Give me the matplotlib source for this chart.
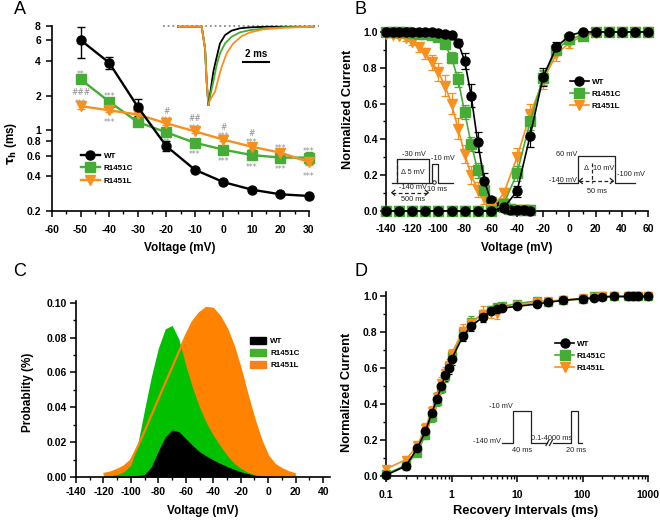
import matplotlib
matplotlib.use("Agg")
import matplotlib.pyplot as plt
from matplotlib.lines import Line2D
from matplotlib.patches import Patch
from matplotlib.ticker import FixedLocator, FixedFormatter, MultipleLocator, NullLocator, LogLocator

plt.rcParams['font.family'] = ['Liberation Sans', 'DejaVu Sans']
plt.rcParams['font.weight'] = 'bold'
plt.rcParams['axes.labelweight'] = 'bold'
plt.rcParams['mathtext.default'] = 'bf'
plt.rcParams['axes.unicode_minus'] = False

W, H = 660, 520

GREEN = '#45ad35'
ORANGE = '#f7901e'
GREEN_FILL = '#00c000'
ORANGE_FILL = '#ff8200'
SIG_GRAY = '#8c8c8c'
labels = ['WT', 'R1451C', 'R1451L']

# ---------------- A: inactivation time constants ----------------
volt_a = [-50, -40, -30, -20, -10, 0, 10, 20, 30]
tau_wt = [6.05, 3.85, 1.60, 0.73, 0.456, 0.356, 0.306, 0.279, 0.27]
tau_wt_err = [1.85, 0.45, 0.26, 0.07, 0.02, 0.015, 0.01, 0.01, 0.01]
tau_c = [2.77, 1.77, 1.18, 0.96, 0.78, 0.68, 0.61, 0.58, 0.58]
tau_c_err = [0.12, 0.08, 0.05, 0.04, 0.03, 0.03, 0.03, 0.03, 0.07]
tau_l = [1.62, 1.49, 1.37, 1.15, 0.98, 0.83, 0.72, 0.64, 0.53]
tau_l_err = [0.1, 0.06, 0.05, 0.04, 0.03, 0.03, 0.03, 0.03, 0.03]

# significance marks: (voltage, series, text, offset in px)
sig_marks = [(-50, 'C', '**', 7), (-50, 'L', '***', 5), (-50, 'L', '###', 14),
             (-40, 'C', '***', 7), (-40, 'L', '***', -10),
             (-20, 'L', '***', 5), (-20, 'L', '#', 12), (-20, 'C', '**', -8),
             (-10, 'L', '***', 5), (-10, 'L', '##', 13), (-10, 'C', '***', -10),
             (0, 'L', '***', 5), (0, 'L', '#', 12), (0, 'C', '***', -10),
             (10, 'L', '***', 6), (10, 'L', '#', 13), (10, 'C', '***', -10),
             (20, 'L', '***', 6), (20, 'C', '***', -10),
             (30, 'C', '***', 8), (30, 'L', '***', -12)]

# inset current traces (time ms, normalised current)
drop_t = [0.0, 1.78, 2.03, 2.15, 2.28]
drop_i = [0.0, 0.0, -0.28, -0.70, -1.0]
trace_wt_t = [2.28, 2.40, 2.65, 2.90, 3.15, 3.53, 4.02, 4.65, 5.40, 6.65, 10.15]
trace_wt_i = [-1.0, -0.87, -0.575, -0.39, -0.213, -0.106, -0.05, -0.02, -0.008, 0.0, 0.0]
trace_c_t = [2.28, 2.40, 2.65, 2.90, 3.15, 3.53, 4.02, 4.65, 5.40, 6.65, 7.90, 10.15]
trace_c_i = [-1.0, -0.894, -0.70, -0.49, -0.34, -0.213, -0.128, -0.072, -0.043, -0.02, -0.008, 0.0]
trace_l_t = [2.28, 2.40, 2.78, 3.03, 3.28, 3.65, 4.15, 4.78, 5.40, 6.40, 7.90, 10.15]
trace_l_i = [-1.0, -0.936, -0.83, -0.66, -0.51, -0.34, -0.213, -0.12, -0.072, -0.034, -0.013, 0.0]

# ---------------- B: steady-state activation / inactivation ----------------
volt_inact = list(range(-140, -25, 5))
inact_wt = [1.0, 1.0, 1.0, 1.0, 1.0, 1.0, 1.0, 1.0, 0.995, 0.99, 0.985, 0.94, 0.84, 0.645,
            0.385, 0.17, 0.06, 0.03, 0.015, 0.008, 0.005, 0.003, 0.002]
inact_wt_err = [0.005] * 11 + [0.02, 0.045, 0.065, 0.055, 0.04, 0.02] + [0.005] * 6
inact_c = [1.0, 1.0, 1.0, 1.0, 0.995, 0.99, 0.99, 0.985, 0.97, 0.93, 0.857, 0.735, 0.553,
           0.376, 0.227, 0.115, 0.05, 0.03, 0.02, 0.012, 0.008, 0.005, 0.003]
inact_c_err = [0.005] * 8 + [0.01, 0.02, 0.03, 0.04, 0.04, 0.04, 0.04, 0.03, 0.02] + [0.005] * 6
inact_l = [0.99, 0.985, 0.975, 0.965, 0.945, 0.915, 0.88, 0.83, 0.775, 0.70, 0.60, 0.46, 0.32,
           0.20, 0.12, 0.07, 0.045, 0.03, 0.02, 0.012, 0.008, 0.005, 0.003]
inact_l_err = [0.01, 0.01, 0.01, 0.015, 0.02, 0.025, 0.03, 0.04, 0.05, 0.06, 0.06, 0.06, 0.05,
               0.05, 0.04, 0.03, 0.02] + [0.005] * 6

volt_act = list(range(-140, 70, 10))
act_wt = [0.0] * 9 + [0.02, 0.11, 0.42, 0.75, 0.915, 0.98, 1.0, 1.0, 1.0, 1.0, 1.0, 1.0]
act_wt_err = [0.0] * 9 + [0.01, 0.03, 0.06, 0.05, 0.03, 0.01, 0.0, 0.0, 0.0, 0.0, 0.0, 0.0]
act_c = [0.0] * 9 + [0.04, 0.21, 0.50, 0.745, 0.90, 0.96, 0.98, 1.0, 1.0, 1.0, 1.0, 1.0]
act_c_err = [0.0] * 9 + [0.01, 0.04, 0.05, 0.04, 0.03, 0.02, 0.01, 0.0, 0.0, 0.0, 0.0, 0.0]
act_l = [0.0] * 8 + [0.01, 0.10, 0.30, 0.54, 0.73, 0.875, 0.94, 0.975, 0.995, 1.0, 1.0, 1.0, 1.0]
act_l_err = [0.0] * 8 + [0.01, 0.03, 0.05, 0.06, 0.05, 0.04, 0.03, 0.02, 0.01, 0.0, 0.0, 0.0, 0.0]

# ---------------- C: window current probability ----------------
volt_c = list(range(-120, 25, 5))
prob_l = [0.0017, 0.0025, 0.004, 0.006, 0.0095, 0.0175, 0.0264, 0.0356, 0.0448, 0.054, 0.063,
          0.072, 0.081, 0.089, 0.094, 0.097, 0.0965, 0.092, 0.085, 0.075, 0.062, 0.047, 0.033,
          0.021, 0.012, 0.007, 0.0045, 0.0027, 0.0015]
prob_c = [0.0004, 0.0008, 0.0015, 0.003, 0.0069, 0.019, 0.039, 0.058, 0.074, 0.085, 0.087,
          0.079, 0.064, 0.051, 0.040, 0.031, 0.024, 0.018, 0.0125, 0.008, 0.005, 0.0028, 0.0014,
          0.0006, 0.0002, 0.0, 0.0, 0.0, 0.0]
prob_wt = [0.0, 0.0, 0.0, 0.0001, 0.0005, 0.0008, 0.0015, 0.006, 0.015, 0.023, 0.027, 0.026,
           0.022, 0.018, 0.0145, 0.012, 0.0098, 0.0078, 0.006, 0.0045, 0.003, 0.002, 0.001,
           0.0005, 0.0002, 0.0, 0.0, 0.0, 0.0]

# ---------------- D: recovery from inactivation ----------------
rec_t = [0.1, 0.2, 0.3, 0.4, 0.5, 0.6, 0.7, 0.8, 0.9, 1, 1.5, 2, 3, 4, 5, 6, 10, 20, 30, 50,
         100, 150, 200, 300, 500, 600, 700, 1000]
rec_wt = [0.005, 0.055, 0.154, 0.25, 0.35, 0.43, 0.50, 0.56, 0.60, 0.65, 0.78, 0.835, 0.885,
          0.92, 0.93, 0.935, 0.945, 0.958, 0.968, 0.978, 0.988, 0.99, 0.997, 1.0, 1.0, 1.0, 1.0, 1.0]
rec_c = [0.01, 0.06, 0.13, 0.23, 0.33, 0.42, 0.49, 0.555, 0.61, 0.67, 0.80, 0.86, 0.90, 0.925,
         0.94, 0.945, 0.96, 0.975, 0.97, 0.98, 0.985, 1.0, 1.0, 1.0, 1.0, 1.0, 1.0, 1.0]
rec_l = [0.04, 0.09, 0.17, 0.27, 0.36, 0.44, 0.52, 0.575, 0.62, 0.68, 0.81, 0.85, 0.905, 0.91,
         0.905, 0.935, 0.95, 0.97, 0.975, 0.98, 0.99, 0.995, 1.0, 1.0, 1.0, 1.0, 1.0, 1.0]
rec_err = [0.01, 0.02, 0.02, 0.025, 0.03, 0.03, 0.03, 0.03, 0.03, 0.03, 0.03, 0.03, 0.025, 0.02,
           0.02, 0.015, 0.01, 0.01, 0.01, 0.01, 0.01, 0.01, 0.005, 0.005, 0.005, 0.005, 0.005, 0.005]
rec_l_err = [0.015, 0.02, 0.02, 0.025, 0.03, 0.03, 0.03, 0.03, 0.03, 0.03, 0.035, 0.03, 0.04,
             0.03, 0.03, 0.015, 0.01, 0.01, 0.01, 0.01, 0.01, 0.01, 0.005, 0.005, 0.005, 0.005,
             0.005, 0.005]


def box(l, t, r, b):
    return [l / W, 1 - b / H, (r - l) / W, (b - t) / H]


def style(ax, pad_x, pad_y):
    for s in ['top', 'right']:
        ax.spines[s].set_visible(False)
    for s in ['left', 'bottom']:
        ax.spines[s].set_linewidth(1.2)
    ax.tick_params(which='major', length=4, width=1.1, labelsize=7.5, direction='out')
    ax.tick_params(which='minor', length=2.5, width=1.0, direction='out')
    ax.tick_params(axis='x', which='major', pad=pad_x)
    ax.tick_params(axis='y', which='major', pad=pad_y)


def place_label(axis, text, x, y, size, fig):
    axis.set_label_text(text, fontsize=size)
    axis.set_label_coords(x / W, 1 - y / H, transform=fig.transFigure)
    axis.label.set_va('center')
    axis.label.set_ha('center')


def unclip(eb):
    eb.lines[0].set_clip_on(False)
    for a in list(eb.lines[1]) + list(eb.lines[2]):
        a.set_clip_on(False)


fig = plt.figure(figsize=(6.6, 5.2), dpi=100)

# ================= A =================
axA = fig.add_axes(box(52, 26, 309, 211))
axA.set_yscale('log')
series_a = {'C': (tau_c, tau_c_err, GREEN, 's'), 'L': (tau_l, tau_l_err, ORANGE, 'v'),
            'W': (tau_wt, tau_wt_err, 'black', 'o')}
for key in ['C', 'L', 'W']:
    vals, err, col, mk = series_a[key]
    eb = axA.errorbar(volt_a, vals, yerr=err, color=col, marker=mk, ms=6.5, lw=1.7,
                      capsize=3, elinewidth=1, capthick=1, zorder=3)
    unclip(eb)
for v, key, txt, dy in sig_marks:
    vals = series_a[key][0]
    axA.annotate(txt, xy=(v, vals[volt_a.index(v)]), xytext=(0, dy - (2 if '*' in txt else 0)),
                 textcoords='offset pixels', ha='center', va='center', fontsize=5.5,
                 color=SIG_GRAY, fontweight='normal', family='DejaVu Sans')
axA.set_xlim(-60, 30)
axA.set_ylim(0.2, 8)
axA.xaxis.set_major_locator(MultipleLocator(10))
axA.xaxis.set_minor_locator(MultipleLocator(5))
yt = [0.2, 0.4, 0.6, 0.8, 1, 2, 4, 6, 8]
axA.yaxis.set_major_locator(FixedLocator(yt))
axA.yaxis.set_major_formatter(FixedFormatter(['0.2', '0.4', '0.6', '0.8', '1', '2', '4', '6', '8']))
axA.yaxis.set_minor_locator(NullLocator())
style(axA, 6, 4)
place_label(axA.xaxis, 'Voltage (mV)', 180, 248, 8.5, fig)
place_label(axA.yaxis, r'$\tau_h$ (ms)', 11, 143, 8.5, fig)
axA.legend([Line2D([], [], color=c, marker=m, ms=6.5, lw=1.7) for c, m in
            [('black', 'o'), (GREEN, 's'), (ORANGE, 'v')]], labels,
           loc='upper left', bbox_to_anchor=(81 / W, 1 - 152 / H), bbox_transform=fig.transFigure,
           frameon=False, fontsize=5.8, handlelength=2.3, handletextpad=0.5,
           labelspacing=0.6, borderpad=0, borderaxespad=0)

# inset traces
axIn = fig.add_axes(box(160, 20, 322, 110))
axIn.set_axis_off()
axIn.set_xlim(-1.35, 10.8)
axIn.set_ylim(-1.064, 0.086)
axIn.plot([-1.1, 10.6], [0.012, 0.012], ls=(0, (1, 1.6)), color='#8a8a8a', lw=1.3)
for col in ['black', GREEN, ORANGE]:
    axIn.plot(drop_t, drop_i, color=col, lw=1.3)
axIn.plot(trace_wt_t, trace_wt_i, color='black', lw=1.3)
axIn.plot(trace_c_t, trace_c_i, color=GREEN, lw=1.3)
axIn.plot(trace_l_t, trace_l_i, color=ORANGE, lw=1.3)
axIn.plot([4.85, 6.85], [-0.447, -0.447], color='black', lw=1.5)
axIn.text(5.85, -0.35, '2 ms', ha='center', va='center', fontsize=7)

# ================= B =================
axB = fig.add_axes(box(386, 28, 648, 211))
for vals, err, col, mk in [(inact_l, inact_l_err, ORANGE, 'v'), (inact_c, inact_c_err, GREEN, 's'),
                           (inact_wt, inact_wt_err, 'black', 'o')]:
    eb = axB.errorbar(volt_inact, vals, yerr=err, color=col, marker=mk, ms=6.5, lw=1.2,
                      capsize=3, elinewidth=0.9, capthick=0.9, zorder=3)
    unclip(eb)
for vals, err, col, mk in [(act_l, act_l_err, ORANGE, 'v'), (act_c, act_c_err, GREEN, 's'),
                           (act_wt, act_wt_err, 'black', 'o')]:
    eb = axB.errorbar(volt_act, vals, yerr=err, color=col, marker=mk, ms=6.5, lw=1.2,
                      capsize=3, elinewidth=0.9, capthick=0.9, zorder=3)
    unclip(eb)
axB.set_xlim(-140, 60)
axB.set_ylim(0, 1.022)
axB.xaxis.set_major_locator(MultipleLocator(20))
axB.xaxis.set_minor_locator(MultipleLocator(10))
axB.yaxis.set_major_locator(FixedLocator([0, 0.2, 0.4, 0.6, 0.8, 1.0]))
axB.yaxis.set_major_formatter(FixedFormatter(['0.0', '0.2', '0.4', '0.6', '0.8', '1.0']))
axB.yaxis.set_minor_locator(MultipleLocator(0.1))
style(axB, 5, 2)
place_label(axB.xaxis, 'Voltage (mV)', 517, 248, 8.5, fig)
place_label(axB.yaxis, 'Normalized Current', 348, 109, 9.3, fig)
axB.legend([Line2D([], [], color=c, marker=m, ms=6.5, lw=1.2) for c, m in
            [('black', 'o'), (GREEN, 's'), (ORANGE, 'v')]], labels,
           loc='upper left', bbox_to_anchor=(570 / W, 1 - 78 / H), bbox_transform=fig.transFigure,
           frameon=False, fontsize=5.8, handlelength=2.3, handletextpad=0.4,
           labelspacing=0.55, borderpad=0, borderaxespad=0)

# ================= C =================
axC = fig.add_axes(box(76, 301, 330, 477))
axC.fill_between(volt_c, 0, prob_l, color=ORANGE_FILL, lw=0, zorder=1)
axC.fill_between(volt_c, 0, prob_c, color=GREEN_FILL, lw=0, zorder=2)
axC.plot(volt_c, prob_l, color=ORANGE_FILL, lw=1.6, zorder=3, solid_capstyle='butt')
axC.fill_between(volt_c, 0, prob_wt, color='black', lw=0, zorder=4)
axC.set_xlim(-140, 45)
axC.set_ylim(0, 0.101)
axC.xaxis.set_major_locator(FixedLocator(list(range(-140, 41, 20))))
axC.xaxis.set_minor_locator(MultipleLocator(10))
axC.yaxis.set_major_locator(FixedLocator([0, 0.02, 0.04, 0.06, 0.08, 0.10]))
axC.yaxis.set_major_formatter(FixedFormatter(['0.00', '0.02', '0.04', '0.06', '0.08', '0.10']))
axC.yaxis.set_minor_locator(MultipleLocator(0.01))
style(axC, 3.5, 2.5)
place_label(axC.xaxis, 'Voltage (mV)', 203, 511, 8.5, fig)
place_label(axC.yaxis, 'Probablity (%)', 28, 392, 8.5, fig)
axC.legend([Patch(color=c) for c in ['black', '#44b02c', '#f5821f']], labels,
           loc='upper left', bbox_to_anchor=(250 / W, 1 - 337 / H), bbox_transform=fig.transFigure,
           frameon=False, fontsize=5.8, handlelength=2.0, handleheight=1.0, handletextpad=0.5,
           labelspacing=0.45, borderpad=0, borderaxespad=0)

# ================= D =================
axD = fig.add_axes(box(386, 292, 648, 476))
axD.set_xscale('log')
for vals, err, col, mk in [(rec_c, rec_err, GREEN, 's'), (rec_l, rec_l_err, ORANGE, 'v'),
                           (rec_wt, rec_err, 'black', 'o')]:
    eb = axD.errorbar(rec_t, vals, yerr=err, color=col, marker=mk, ms=6, lw=1.2,
                      capsize=2.5, elinewidth=0.9, capthick=0.9, zorder=3)
    unclip(eb)
axD.set_xlim(0.1, 1000)
axD.set_ylim(0, 1.025)
axD.xaxis.set_major_locator(FixedLocator([0.1, 1, 10, 100, 1000]))
axD.xaxis.set_major_formatter(FixedFormatter(['0.1', '1', '10', '100', '1000']))
axD.xaxis.set_minor_locator(LogLocator(base=10, subs=range(2, 10)))
axD.yaxis.set_major_locator(FixedLocator([0, 0.2, 0.4, 0.6, 0.8, 1.0]))
axD.yaxis.set_major_formatter(FixedFormatter(['0.0', '0.2', '0.4', '0.6', '0.8', '1.0']))
axD.yaxis.set_minor_locator(MultipleLocator(0.1))
style(axD, 6, 2)
place_label(axD.xaxis, 'Recovery Intervals (ms)', 526, 511, 9.3, fig)
place_label(axD.yaxis, 'Normalized Current', 347, 392, 9.3, fig)
axD.legend([Line2D([], [], color=c, marker=m, ms=6.5, lw=1.2) for c, m in
            [('black', 'o'), (GREEN, 's'), (ORANGE, 'v')]], labels,
           loc='upper left', bbox_to_anchor=(555 / W, 1 - 340 / H), bbox_transform=fig.transFigure,
           frameon=False, fontsize=5.8, handlelength=2.4, handletextpad=0.3,
           labelspacing=0.55, borderpad=0, borderaxespad=0)

# ================= protocol sketches (pixel overlay) =================
ov = fig.add_axes([0, 0, 1, 1], zorder=10)
ov.set_xlim(0, W)
ov.set_ylim(H, 0)
ov.set_axis_off()
kw = dict(color='#222222', lw=0.9)
pk = dict(fontsize=5.3, fontweight='normal', color='#222222', va='center')


def chevron(x, y, d):
    ov.plot([x + 3 * d, x, x + 3 * d], [y - 2.5, y, y + 2.5], **kw)


# B inactivation protocol
ov.plot([392, 431.7, 431.7, 438.3, 438.3, 453], [183.3, 183.3, 164.3, 164.3, 183.3, 183.3], **kw)
ov.plot([396.7, 396.7, 429.3, 429.3], [183.3, 159.3, 159.3, 183.3], **kw)
ov.plot([396.7, 396.7], [159.3, 183.3], color='#222222', lw=0.9, ls=(0, (3, 2)))
ov.plot([391.7, 428.3], [192.7, 192.7], color='#222222', lw=0.9, ls=(0, (3, 2)))
chevron(391.7, 192.7, 1)
chevron(428.3, 192.7, -1)
ov.plot([434.3], [182], marker='o', ms=2.5, mfc='white', mec='#222222', mew=0.7)
ov.text(414, 155, '-30 mV', ha='center', **pk)
ov.text(443, 159, '-10 mV', ha='center', **pk)
ov.text(413, 172.7, 'Δ 5 mV', ha='center', **pk)
ov.text(413, 187.7, '-140 mV', ha='center', **pk)
ov.text(437, 189.3, '10 ms', ha='center', **pk)
ov.text(413, 199.3, '500 ms', ha='center', **pk)

# B activation protocol
ov.plot([558.3, 577.7, 577.7, 615, 615, 635], [183.3, 183.3, 156, 156, 183.3, 183.3], **kw)
ov.plot([592.3, 592.3], [162.7, 183.3], color='#222222', lw=0.9, ls=(0, (3, 2)))
ov.plot([579.3, 613.3], [181, 181], color='#222222', lw=0.9, ls=(0, (3, 2)))
chevron(579.3, 181, 1)
chevron(613.3, 181, -1)
ov.text(566.7, 154, '60 mV', ha='center', **pk)
ov.text(586.7, 169, 'Δ', ha='center', **pk)
ov.text(604, 169, '10 mV', ha='center', **pk)
ov.text(630.7, 174.3, '-100 mV', ha='center', **pk)
ov.text(563.3, 181, '-140 mV', ha='center', **pk)
ov.text(597.3, 191.7, '50 ms', ha='center', **pk)

# D recovery protocol
ov.plot([501.7, 513.3, 513.3, 530.7, 530.7, 546.7], [442.7, 442.7, 410.7, 410.7, 442.7, 442.7], **kw)
ov.plot([552.7, 570.7, 570.7, 578.3, 578.3, 581.7], [442.7, 442.7, 410.7, 410.7, 442.7, 442.7], **kw)
ov.plot([546, 549], [445.5, 440], **kw)
ov.plot([549.5, 552.5], [445.5, 440], **kw)
ov.text(512.7, 406.7, '-10 mV', ha='right', **pk)
ov.text(500.7, 441.5, '-140 mV', ha='right', **pk)
ov.text(552, 438.3, '0.1-4000 ms', ha='center', **pk)
ov.text(522.3, 450.7, '40 ms', ha='center', **pk)
ov.text(576, 450.7, '20 ms', ha='center', **pk)

# panel letters
for letter, x, y in [('A', 20, 10), ('B', 360, 10), ('C', 20, 271), ('D', 361, 272)]:
    ov.text(x, y, letter, fontsize=13, fontweight='normal', ha='center', va='center')

fig.savefig('out.png', dpi=100)
